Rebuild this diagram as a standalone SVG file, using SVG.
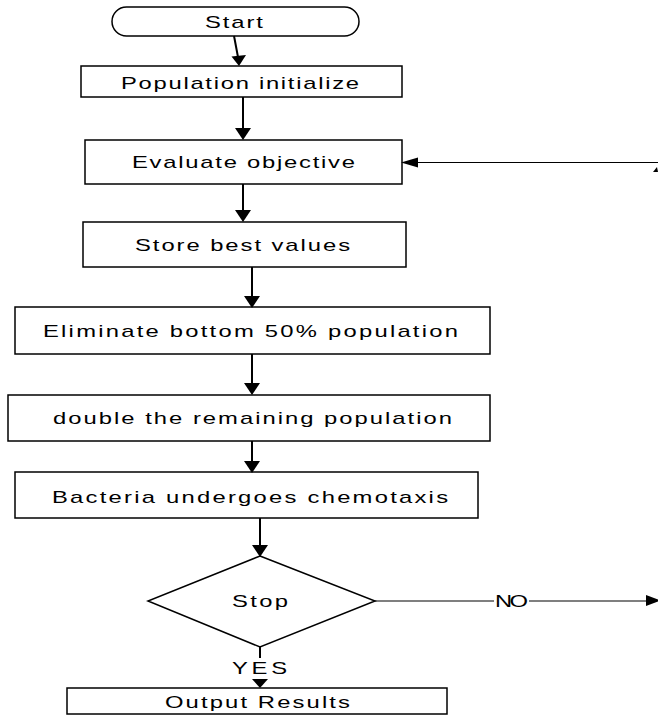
<svg xmlns="http://www.w3.org/2000/svg" width="658" height="718" viewBox="0 0 658 718">
<style>
  .box { fill: #ffffff; stroke: #000000; stroke-width: 1.5; }
  .lbl { font-family: "Liberation Sans", Arial, sans-serif; font-size: 17px; fill: #000000; text-anchor: start; }
  .arr { stroke: #000000; stroke-width: 2; fill: none; }
  .thin { stroke: #000000; stroke-width: 1.2; fill: none; }
  .head { fill: #000000; stroke: none; }
</style>
<rect width="658" height="718" fill="#ffffff"/>
<g id="start">
  <rect class="box" x="112" y="7" width="247" height="29" rx="14.5" ry="14.5"/>
  <text class="lbl" transform="translate(205,28) scale(1.4,1)" x="0" y="0" textLength="41.4" lengthAdjust="spacing">Start</text>
</g>
<g id="population-initialize">
  <rect class="box" x="81" y="66" width="321" height="31"/>
  <text class="lbl" transform="translate(121,89) scale(1.4,1)" x="0" y="0" textLength="170" lengthAdjust="spacing">Population initialize</text>
</g>
<g id="evaluate-objective">
  <rect class="box" x="85" y="140" width="317" height="44"/>
  <text class="lbl" transform="translate(132,168) scale(1.4,1)" x="0" y="0" textLength="159.3" lengthAdjust="spacing">Evaluate objective</text>
</g>
<g id="store-best-values">
  <rect class="box" x="83" y="222" width="323" height="45"/>
  <text class="lbl" transform="translate(135,251) scale(1.4,1)" x="0" y="0" textLength="153.6" lengthAdjust="spacing">Store best values</text>
</g>
<g id="eliminate">
  <rect class="box" x="15" y="307" width="475" height="47"/>
  <text class="lbl" transform="translate(43,337) scale(1.4,1)" x="0" y="0" textLength="296.4" lengthAdjust="spacing">Eliminate bottom 50% population</text>
</g>
<g id="double">
  <rect class="box" x="8" y="395" width="482" height="46"/>
  <text class="lbl" transform="translate(53,424) scale(1.4,1)" x="0" y="0" textLength="285" lengthAdjust="spacing">double the remaining population</text>
</g>
<g id="chemotaxis">
  <rect class="box" x="15" y="472" width="463" height="46"/>
  <text class="lbl" transform="translate(52,503) scale(1.4,1)" x="0" y="0" textLength="282.9" lengthAdjust="spacing">Bacteria undergoes chemotaxis</text>
</g>
<g id="stop">
  <polygon class="box" points="260,556 375,601 260,647 148,601"/>
  <text class="lbl" transform="translate(232,607) scale(1.4,1)" x="0" y="0" textLength="40" lengthAdjust="spacing">Stop</text>
</g>
<g id="output-results">
  <rect class="box" x="67" y="688" width="380" height="26"/>
  <text class="lbl" transform="translate(165,708) scale(1.4,1)" x="0" y="0" textLength="132.1" lengthAdjust="spacing">Output Results</text>
</g>
<g id="connectors">
  <line class="arr" x1="234" y1="36" x2="238" y2="57"/>
  <polygon class="head" points="239,66 231.5,56.5 246,55"/>
  <line class="arr" x1="243" y1="97" x2="243" y2="129"/>
  <polygon class="head" points="243,140 235,128 251,128"/>
  <line class="arr" x1="243" y1="184" x2="243" y2="211"/>
  <polygon class="head" points="243,222 235,210 251,210"/>
  <line class="arr" x1="252" y1="267" x2="252" y2="297"/>
  <polygon class="head" points="252,308 244,296 260,296"/>
  <line class="arr" x1="252" y1="354" x2="252" y2="384"/>
  <polygon class="head" points="252,395 244,383 260,383"/>
  <line class="arr" x1="252" y1="441" x2="252" y2="462"/>
  <polygon class="head" points="252,473 244,461 260,461"/>
  <line class="arr" x1="260" y1="518" x2="260" y2="546"/>
  <polygon class="head" points="260,557 252,545 268,545"/>
  <line class="arr" x1="260" y1="647" x2="260" y2="658"/>
  <text class="lbl" transform="translate(232,674) scale(1.4,1)" x="0" y="0" textLength="39.3" lengthAdjust="spacing">YES</text>
  <polygon class="head" points="260,688 252,679 268,679"/>
  <line class="thin" x1="375" y1="601" x2="494" y2="601"/>
  <text class="lbl" transform="translate(495,607) scale(1.4,1)" x="0" y="0" textLength="23.6" lengthAdjust="spacing">NO</text>
  <line class="thin" x1="529" y1="601" x2="647" y2="601"/>
  <polygon class="head" points="646,595 646,606 661,600.5"/>
  <line class="thin" x1="658" y1="162.5" x2="416" y2="162.5"/>
  <polygon class="head" points="401,162.5 418,157.5 418,167.5"/>
  <polygon class="head" points="653,172 657,167 658,172"/>
</g>
</svg>
